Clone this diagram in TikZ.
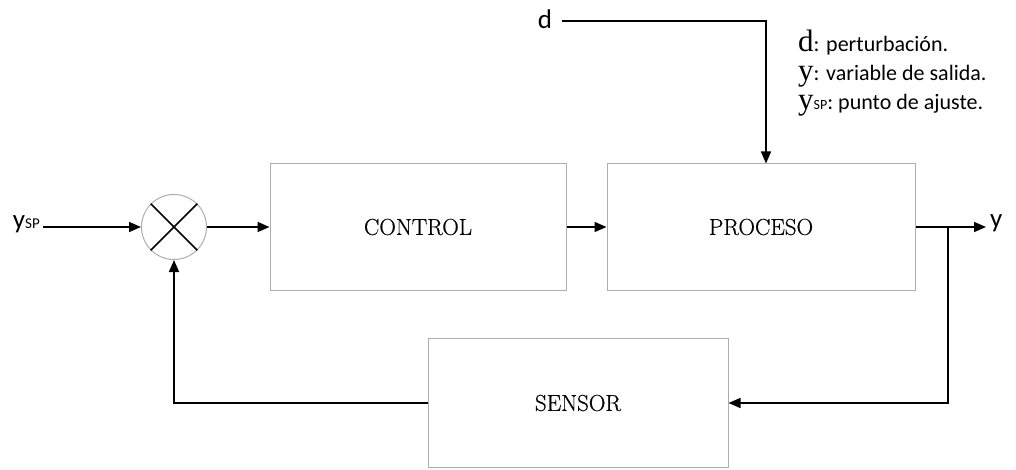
\documentclass[tikz,border=0pt]{standalone}
\usepackage{fontspec}
\newfontfamily\carl{Carlito}
\newfontfamily\camb{Liberation Serif}
\newfontfamily\boxfont[FakeBold=0.5]{Latin Modern Roman}
\usetikzlibrary{arrows.meta}
\begin{document}
\begin{tikzpicture}[x=1pt,y=-1pt,
  box/.style={draw=black!32, line width=1pt, inner sep=0pt, font=\boxfont\fontsize{23}{26}\selectfont},
  conn/.style={line width=1.6pt, -{Triangle[length=12pt,width=10pt]}},
  lbl/.style={font=\carl\fontsize{27}{30}\selectfont, inner sep=0pt},
  leg/.style={anchor=base west, inner sep=0pt, font=\carl\fontsize{22}{26}\selectfont}]
\useasboundingbox (0,0) rectangle (1016,470);
% blocks
\node[box, minimum width=296pt, minimum height=126pt] (control) at (418,227) {CONTROL};
\node[box, minimum width=308pt, minimum height=126pt] (proceso) at (761,227) {PROCESO};
\node[box, minimum width=300pt, minimum height=129pt] (sensor) at (578,403) {SENSOR};
\node[circle, draw=black!32, line width=1pt, minimum size=65pt, inner sep=0pt] (sum) at (174,227) {};
\draw[line width=1.6pt] (sum.45) -- (sum.225) (sum.135) -- (sum.-45);
% labels
\node[lbl, anchor=east] (ysp) at (40,224) {y\fontsize{15}{17}\selectfont SP};
\node[lbl] (d) at (545,19) {d};
\node[lbl, anchor=west] (y) at (990,223) {y};
\coordinate (br) at (948,227);
\coordinate (din) at ([xshift=5pt]proceso.north);
% connectors
\draw[conn] ([xshift=3pt]ysp.east |- sum.west) -- (sum.west);
\draw[conn] (sum.east) -- (control.west);
\draw[conn] (control.east) -- (proceso.west);
\draw[conn] ([xshift=10pt]d.east |- 0,21) -| (din);
\draw[conn] (proceso.east) -- ([xshift=-4pt]y.west |- proceso.east);
\draw[conn] (br) |- (sensor.east);
\draw[conn] (sensor.west) -| (sum.south);
% legend
\node[leg] (l1) at (798,52) {{\camb\fontsize{31}{32}\selectfont d}: perturbación.};
\node[leg] (l2) at (798,81) {{\camb\fontsize{31}{32}\selectfont y}: variable de salida.};
\node[leg] (l3) at (798,110) {{\camb\fontsize{31}{32}\selectfont y}{\fontsize{14}{16}\selectfont SP}: punto de ajuste.};
\end{tikzpicture}
\end{document}
